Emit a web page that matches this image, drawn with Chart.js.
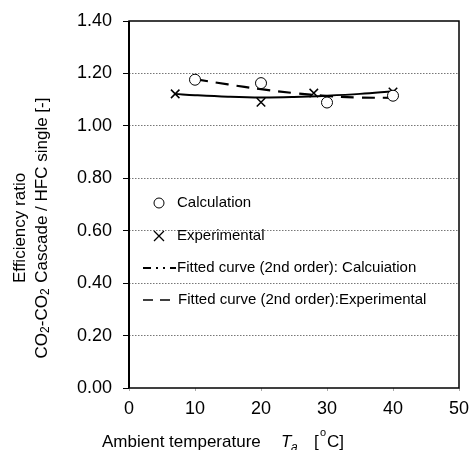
<!DOCTYPE html>
<html>
<head>
<meta charset="utf-8">
<script src="https://cdn.jsdelivr.net/npm/chart.js@4"></script>
<style>
html,body{margin:0;padding:0;background:#fff;}
#c{display:block;}
</style>
</head>
<body>
<canvas id="c" width="470" height="450"></canvas>
<script>
// ---- data ----
const calcX = [10, 20, 30, 40];
const calcY = [1.176, 1.163, 1.089, 1.115];
const expX = [7, 20, 28, 40];
const expY = [1.122, 1.090, 1.125, 1.129];
const fitCalcX = [10, 15, 20, 25, 30, 35, 40];
const fitCalcY = [1.178, 1.158, 1.140, 1.125, 1.114, 1.108, 1.107];
const fitExpX = [7, 10, 15, 20, 25, 30, 35, 40];
const fitExpY = [1.122, 1.117, 1.111, 1.108, 1.110, 1.115, 1.122, 1.132];
const yTicks = [0, 0.2, 0.4, 0.6, 0.8, 1.0, 1.2, 1.4];
const xTicks = [0, 10, 20, 30, 40, 50];
const legendLabels = ['Calculation', 'Experimental',
  'Fitted curve (2nd order): Calcuiation', 'Fitted curve (2nd order):Experimental'];

const FONT = "'Liberation Sans', Arial, sans-serif";
const pts = (xs, ys) => xs.map((x, i) => ({x: x, y: ys[i]}));

function drawRich(ctx, segs, x, y, align) {
  let w = 0;
  segs.forEach(s => { ctx.font = s.font; w += ctx.measureText(s.t).width + (s.gap || 0); });
  let cx = align === 'center' ? x - w / 2 : x;
  segs.forEach(s => {
    ctx.font = s.font;
    ctx.fillText(s.t, cx, y + (s.dy || 0));
    cx += ctx.measureText(s.t).width + (s.gap || 0);
  });
}

const decor = {
  id: 'decor',
  afterDatasetsDraw(chart) {
    const ctx = chart.ctx, a = chart.chartArea;
    ctx.save();
    // frame
    ctx.strokeStyle = '#000';
    ctx.lineWidth = 1.5;
    ctx.strokeRect(a.left, a.top, a.right - a.left, a.bottom - a.top);
    ctx.lineWidth = 2;
    ctx.beginPath(); ctx.moveTo(a.left, a.top); ctx.lineTo(a.left, a.bottom); ctx.stroke();

    // legend inside plot
    ctx.fillStyle = '#000';
    ctx.textBaseline = 'middle';
    ctx.textAlign = 'left';
    ctx.font = '15px ' + FONT;
    const mx = a.left + 30, tx = a.left + 48;
    const rows = [a.top + 182, a.top + 215, a.top + 247, a.top + 279];
    // circle
    ctx.lineWidth = 1;
    ctx.beginPath(); ctx.arc(mx, rows[0], 5, 0, Math.PI * 2); ctx.fillStyle = '#fff'; ctx.fill(); ctx.stroke();
    ctx.fillStyle = '#000';
    ctx.fillText(legendLabels[0], tx, rows[0]);
    // cross
    ctx.lineWidth = 1.3;
    ctx.beginPath();
    ctx.moveTo(mx - 5, rows[1] - 5); ctx.lineTo(mx + 5, rows[1] + 5);
    ctx.moveTo(mx + 5, rows[1] - 5); ctx.lineTo(mx - 5, rows[1] + 5);
    ctx.stroke();
    ctx.fillText(legendLabels[1], tx, rows[1]);
    // dash-dot sample
    ctx.lineWidth = 2.2;
    const lx = a.left + 14;
    ctx.beginPath();
    ctx.moveTo(lx, rows[2]); ctx.lineTo(lx + 8, rows[2]);
    ctx.moveTo(lx + 13, rows[2]); ctx.lineTo(lx + 15, rows[2]);
    ctx.moveTo(lx + 20, rows[2]); ctx.lineTo(lx + 22, rows[2]);
    ctx.moveTo(lx + 27, rows[2]); ctx.lineTo(lx + 33, rows[2]);
    ctx.stroke();
    ctx.fillText(legendLabels[2], tx, rows[2]);
    // dash sample
    ctx.lineWidth = 1.6;
    ctx.beginPath();
    ctx.moveTo(lx, rows[3]); ctx.lineTo(lx + 10, rows[3]);
    ctx.moveTo(lx + 17, rows[3]); ctx.lineTo(lx + 27, rows[3]);
    ctx.stroke();
    ctx.fillText(legendLabels[3], tx + 1, rows[3]);

    // x axis title
    ctx.textBaseline = 'alphabetic';
    const f = '17px ' + FONT, fi = 'italic 17px ' + FONT, fs = 'italic 12px ' + FONT, fsm = '11px ' + FONT;
    ctx.font = f;
    ctx.fillText('Ambient temperature', 102, 447);
    ctx.font = fi; ctx.fillText('T', 281, 447);
    ctx.font = fs; ctx.fillText('a', 291, 451);
    ctx.font = f; ctx.fillText('[', 314, 447);
    ctx.font = fsm; ctx.fillText('o', 320, 436);
    ctx.font = f; ctx.fillText('C]', 327, 447);

    // y axis title (rotated)
    ctx.save();
    ctx.rotate(-Math.PI / 2);
    ctx.textBaseline = 'middle';
    ctx.font = f;
    ctx.textAlign = 'center';
    ctx.fillText('Efficiency ratio', -228, 20);
    ctx.textAlign = 'left';
    drawRich(ctx, [
      {t: 'CO', font: f},
      {t: '2', font: '12px ' + FONT, dy: 4},
      {t: '-CO', font: f},
      {t: '2', font: '12px ' + FONT, dy: 4, gap: 1},
      {t: ' Cascade / HFC single [-]', font: f}
    ], -228, 42, 'center');
    ctx.restore();
    ctx.restore();
  }
};

new Chart(document.getElementById('c'), {
  type: 'scatter',
  data: {
    datasets: [
      {label: legendLabels[0], data: pts(calcX, calcY), pointStyle: 'circle', pointRadius: 5.5,
       pointBorderWidth: 1, borderColor: '#000', backgroundColor: '#fff', showLine: false, order: 0},
      {label: legendLabels[1], data: pts(expX, expY), pointStyle: 'crossRot', pointRadius: 6,
       pointBorderWidth: 1.5, borderColor: '#000', backgroundColor: '#000', showLine: false, order: 0},
      {label: legendLabels[2], data: pts(fitCalcX, fitCalcY), showLine: true, pointRadius: 0,
       borderColor: '#000', borderWidth: 2.2, borderDash: [13, 8], tension: 0.4, order: 1},
      {label: legendLabels[3], data: pts(fitExpX, fitExpY), showLine: true, pointRadius: 0,
       borderColor: '#000', borderWidth: 2, tension: 0.4, order: 1}
    ]
  },
  options: {
    responsive: false,
    animation: false,
    layout: {padding: {left: 0, right: 11, top: 21, bottom: 0}},
    plugins: {legend: {display: false}, tooltip: {enabled: false}},
    scales: {
      x: {
        type: 'linear', min: 0, max: 50,
        afterBuildTicks: s => { s.ticks = xTicks.map(v => ({value: v})); },
        afterFit: s => { s.height = 62; s.paddingLeft = 0; s.paddingRight = 0; },
        grid: {drawOnChartArea: false, drawTicks: true, tickLength: 3, tickColor: '#aaa', tickWidth: 1},
        border: {display: false},
        ticks: {color: '#000', font: {family: FONT, size: 18}, padding: 7, maxRotation: 0}
      },
      y: {
        type: 'linear', min: 0, max: 1.4,
        afterBuildTicks: s => { s.ticks = yTicks.map(v => ({value: v})); },
        afterFit: s => { s.width = 129; s.paddingTop = 0; s.paddingBottom = 0; },
        grid: {
          color: c => (c.tick && (c.tick.value === 0 || Math.abs(c.tick.value - 1.4) < 1e-6)) ? 'rgba(0,0,0,0)' : '#777',
          lineWidth: 1, tickLength: 6, tickColor: '#000', tickWidth: 1, tickBorderDash: []
        },
        border: {display: false, dash: [1.5, 1.5]},
        ticks: {color: '#000', font: {family: FONT, size: 18}, padding: 11,
                callback: v => v.toFixed(2)}
      }
    }
  },
  plugins: [decor]
});
</script>
</body>
</html>
